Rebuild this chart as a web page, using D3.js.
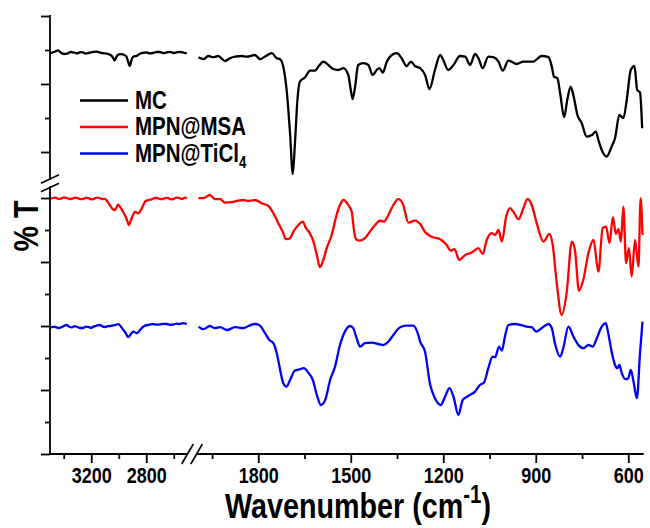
<!DOCTYPE html>
<html>
<head>
<meta charset="utf-8">
<script src="https://cdn.jsdelivr.net/npm/d3@7"></script>
<style>
  html, body { margin: 0; padding: 0; background: #fff; }
  svg { display: block; }
</style>
</head>
<body>
<svg id="chart" width="650" height="528"></svg>
<script>
// FTIR spectra, stacked with offsets: [wavenumber (cm-1), offset %T]
const seriesNames = ["MC", "MPN@MSA", "MPN@TiCl"];
const seriesSubscripts = ["", "", "4"];
const seriesColors = ["#000000", "#ff0000", "#0000ff"];

// MC, 3500-2500 cm-1
const mcHigh = [[3500,200.3],[3470,201.0],[3440,201.8],[3420,200.6],[3400,200.0],[3370,200.3],[3350,201.0],[3330,200.8],[3300,200.3],[3280,200.9],[3260,200.8],[3240,200.2],[3220,200.5],[3190,200.9],[3160,201.2],[3130,200.6],[3100,200.3],[3080,200.0],[3060,199.5],[3045,198.5],[3030,196.8],[3015,198.8],[3000,199.8],[2980,199.9],[2960,199.5],[2945,198.8],[2935,197.0],[2920,194.0],[2905,197.5],[2890,198.8],[2870,199.0],[2850,200.0],[2825,200.6],[2800,200.8],[2775,200.3],[2750,200.5],[2725,201.0],[2700,201.0],[2675,200.4],[2650,200.8],[2625,201.1],[2600,200.5],[2575,200.9],[2550,201.0],[2525,200.6],[2505,200.3]];
// MC, 2000-550 cm-1
const mcLow = [[1994,198.4],[1978,197.4],[1962,199.0],[1946,198.4],[1930,199.0],[1908,196.5],[1892,197.9],[1875,198.7],[1854,199.0],[1837,198.7],[1811,199.5],[1794,197.4],[1778,198.7],[1756,200.4],[1740,197.9],[1729,197.4],[1719,193.7],[1708,182.0],[1697,160.5],[1688,140.0],[1681,155.5],[1673,177.0],[1665,186.2],[1648,188.4],[1632,191.7],[1616,191.7],[1605,193.7],[1589,196.2],[1573,194.5],[1557,192.5],[1540,192.0],[1524,192.9],[1508,189.5],[1500,182.0],[1494,177.4],[1486,183.7],[1476,194.5],[1459,195.4],[1443,194.5],[1429,189.5],[1416,192.0],[1407,192.9],[1396,190.7],[1383,196.2],[1367,199.5],[1351,200.4],[1335,197.9],[1319,194.0],[1305,196.2],[1292,194.0],[1275,192.9],[1259,189.5],[1245,182.5],[1227,192.0],[1210,199.5],[1200,197.0],[1184,192.0],[1167,194.5],[1146,199.0],[1129,198.7],[1113,194.5],[1097,200.0],[1086,197.9],[1072,192.9],[1054,198.7],[1038,198.4],[1021,196.2],[1007,191.7],[989,196.7],[973,195.7],[962,195.0],[940,196.2],[908,196.2],[881,199.0],[859,198.4],[848,193.7],[841,188.7],[830,187.9],[821,180.4],[808,168.4],[798,177.0],[787,183.7],[776,177.9],[765,169.5],[751,165.4],[735,158.7],[718,159.5],[705,161.2],[697,157.0],[686,152.0],[670,148.7],[654,153.7],[643,157.9],[629,169.5],[616,167.9],[605,177.0],[592,192.0],[580,194.0],[571,182.0],[562,180.7],[555,162.9]];

// MPN@MSA
const msaHigh = [[3500,127.5],[3480,128.0],[3460,128.2],[3440,127.6],[3420,127.7],[3400,128.3],[3380,128.1],[3360,127.5],[3340,127.6],[3320,128.2],[3300,128.0],[3280,127.4],[3260,127.5],[3240,128.1],[3220,127.9],[3200,127.3],[3180,127.6],[3160,128.2],[3140,128.0],[3120,127.4],[3100,127.6],[3088,126.7],[3065,124.5],[3045,122.5],[3027,122.0],[3005,124.7],[2985,123.0],[2960,120.0],[2940,117.0],[2927,114.5],[2906,117.8],[2882,121.1],[2858,120.3],[2833,122.8],[2809,126.1],[2785,127.0],[2760,127.3],[2740,127.9],[2720,128.0],[2700,127.4],[2680,127.5],[2660,128.1],[2640,127.9],[2620,127.3],[2600,127.6],[2580,128.2],[2560,128.0],[2540,127.5],[2520,128.2],[2505,127.8]];
const msaLow = [[1994,127.9],[1978,127.9],[1957,129.5],[1940,127.4],[1924,127.5],[1908,125.7],[1886,125.9],[1865,126.7],[1849,127.0],[1832,126.5],[1811,127.0],[1789,125.4],[1767,124.0],[1751,120.4],[1735,115.4],[1721,111.2],[1710,107.4],[1697,107.9],[1686,111.2],[1670,114.5],[1656,116.2],[1645,112.9],[1634,110.7],[1621,106.2],[1610,99.5],[1600,93.4],[1589,97.0],[1578,102.9],[1562,109.5],[1546,119.5],[1535,124.5],[1524,127.0],[1508,124.5],[1497,121.2],[1489,111.2],[1483,107.4],[1470,106.7],[1454,107.9],[1438,111.2],[1421,114.5],[1405,116.7],[1392,116.2],[1378,119.5],[1362,124.5],[1346,127.4],[1331,125.0],[1313,115.7],[1292,116.7],[1275,115.0],[1259,111.0],[1240,108.7],[1210,107.4],[1189,104.5],[1176,101.7],[1164,102.4],[1148,97.0],[1129,99.5],[1108,100.7],[1086,102.9],[1072,100.0],[1059,107.0],[1043,110.4],[1032,109.5],[1021,112.0],[1010,106.2],[996,118.7],[983,122.9],[973,121.2],[956,117.4],[940,122.9],[927,127.5],[913,124.5],[897,115.4],[875,106.2],[856,110.0],[845,104.5],[832,85.4],[816,69.5],[800,80.4],[783,106.2],[773,102.0],[760,81.7],[746,87.0],[729,100.7],[713,107.0],[697,91.2],[683,112.9],[672,113.7],[661,105.4],[650,118.4],[640,110.0],[632,112.4],[624,106.2],[616,123.7],[607,95.4],[598,102.9],[589,88.7],[578,107.0],[567,93.7],[560,127.9],[554,109.5]];

// MPN@TiCl4
const tiHigh = [[3500,62.9],[3480,63.6],[3460,63.5],[3440,63.0],[3420,63.3],[3400,64.0],[3379,64.5],[3360,63.6],[3340,63.3],[3320,63.9],[3300,63.5],[3280,63.0],[3260,63.0],[3240,63.7],[3220,63.5],[3200,63.1],[3180,63.8],[3160,64.2],[3136,64.5],[3120,63.8],[3100,63.5],[3080,63.9],[3060,64.0],[3030,64.4],[3003,64.9],[2985,63.8],[2967,62.0],[2950,60.5],[2931,58.4],[2912,60.0],[2894,61.2],[2870,60.4],[2845,62.0],[2825,63.5],[2809,64.2],[2780,64.6],[2749,65.0],[2725,64.7],[2700,64.8],[2675,65.1],[2650,65.0],[2625,64.6],[2600,64.8],[2580,65.2],[2560,65.0],[2531,65.4],[2505,65.0]];
const tiLow = [[1994,63.7],[1978,62.4],[1957,64.0],[1940,62.9],[1924,63.4],[1902,62.0],[1875,63.4],[1849,62.9],[1832,64.0],[1811,65.0],[1797,64.5],[1778,60.4],[1764,57.0],[1751,55.4],[1740,50.4],[1729,42.0],[1719,35.4],[1708,33.7],[1697,37.0],[1681,41.7],[1665,42.4],[1652,42.9],[1638,40.7],[1623,37.0],[1610,29.5],[1597,24.5],[1583,27.0],[1567,37.0],[1551,43.7],[1535,54.5],[1519,61.2],[1502,64.0],[1492,62.9],[1481,57.9],[1470,53.7],[1454,55.4],[1432,55.7],[1411,55.0],[1394,54.5],[1378,56.2],[1362,59.5],[1340,63.4],[1319,64.2],[1297,64.2],[1281,59.5],[1275,56.2],[1259,51.0],[1243,35.0],[1227,27.9],[1208,24.5],[1194,28.7],[1180,32.9],[1167,28.7],[1151,19.5],[1137,27.0],[1119,29.0],[1097,31.2],[1081,34.5],[1068,35.7],[1054,42.9],[1040,48.7],[1032,48.4],[1019,53.7],[1010,51.7],[1000,58.7],[989,64.5],[967,65.0],[946,64.4],[929,63.7],[913,63.4],[899,61.2],[881,62.9],[859,65.0],[848,62.9],[838,55.4],[821,48.7],[811,52.9],[794,63.7],[778,58.7],[762,54.5],[746,52.9],[729,54.5],[715,53.7],[702,57.9],[686,63.7],[673,65.4],[665,60.4],[654,51.2],[643,44.5],[635,42.9],[629,44.5],[621,40.4],[610,37.4],[600,37.9],[592,42.0],[583,36.2],[572,27.9],[562,50.4],[554,66.2]];

// Axis ticks
const xHighMajor = [3200, 2800];
const xHighMinor = [3400, 3000, 2600];
const xLowMajor = [1800, 1500, 1200, 900, 600];
const xLowMinor = [1950, 1650, 1350, 1050, 750];
const yUpperMajor = [219, 185, 151];
const yUpperMinor = [202, 168];
const yLowerMajor = [128, 96, 64, 32, 0];
const yLowerMinor = [112, 80, 48, 16];
// broken-axis limits (data units)
const yUpperRange = [137.5, 219];
const yLowerRange = [0, 133.25];

const FONT = "'Liberation Sans', Arial, Helvetica, sans-serif";
const NARROW = "scale(0.82,1)";

const svg = d3.select("#chart");

const xHigh = d3.scaleLinear().domain([3500, 2500]).range([50, 187.5]);
const xLow = d3.scaleLinear().domain([2000, 550]).range([196.6, 643.7]);
const y = d3.scaleLinear().domain([0, 219]).range([454, 16]);

// ----- spectra -----
const plot = svg.append("g");
const segments = [
  [mcHigh, xHigh, 0], [mcLow, xLow, 0],
  [msaHigh, xHigh, 1], [msaLow, xLow, 1],
  [tiHigh, xHigh, 2], [tiLow, xLow, 2]
];
segments.forEach(([data, xs, i]) => {
  const line = d3.line()
    .x(d => xs(d[0]))
    .y(d => y(d[1]))
    .curve(d3.curveMonotoneX);
  plot.append("path")
    .datum(data)
    .attr("fill", "none")
    .attr("stroke", seriesColors[i])
    .attr("stroke-width", 2.3)
    .attr("stroke-linejoin", "round")
    .attr("d", line);
});

// ----- axes -----
const axisStroke = 1.8;
const x0 = xHigh(3500);
const yBase = y(0);

function styleAxis(g) {
  g.selectAll(".domain").remove();
  g.selectAll("line").attr("stroke", "#000").attr("stroke-width", axisStroke);
}

function drawXAxis(scale, majors, minors) {
  const gMaj = svg.append("g").attr("transform", `translate(0,${yBase})`)
    .call(d3.axisBottom(scale).tickValues(majors).tickSize(9).tickSizeOuter(0).tickFormat(d3.format("d")));
  const gMin = svg.append("g").attr("transform", `translate(0,${yBase})`)
    .call(d3.axisBottom(scale).tickValues(minors).tickSize(5).tickSizeOuter(0).tickFormat(""));
  styleAxis(gMaj); styleAxis(gMin);
  gMaj.selectAll("text")
    .attr("fill", "#000")
    .attr("font-family", FONT)
    .attr("font-weight", "bold")
    .attr("font-size", 22)
    .attr("y", 13)
    .attr("dy", "0.71em")
    .attr("transform", NARROW);
  // axis line for this segment
  svg.append("line")
    .attr("x1", scale.range()[0]).attr("x2", scale.range()[1])
    .attr("y1", yBase).attr("y2", yBase)
    .attr("stroke", "#000").attr("stroke-width", axisStroke);
}
drawXAxis(xHigh, xHighMajor, xHighMinor);
drawXAxis(xLow, xLowMajor, xLowMinor);

function drawYTicks(values, size) {
  const g = svg.append("g").attr("transform", `translate(${x0},0)`)
    .call(d3.axisLeft(y).tickValues(values).tickSize(size).tickSizeOuter(0).tickFormat(""));
  styleAxis(g);
}
drawYTicks(yUpperMajor, 9);
drawYTicks(yUpperMinor, 5);
drawYTicks(yLowerMajor, 9);
drawYTicks(yLowerMinor, 5);

[yUpperRange, yLowerRange].forEach(r => {
  svg.append("line")
    .attr("x1", x0).attr("x2", x0)
    .attr("y1", y(r[0])).attr("y2", y(r[1]))
    .attr("stroke", "#000").attr("stroke-width", axisStroke)
    .attr("stroke-linecap", "square");
});

// break marks
const breakStroke = 1.6;
[yUpperRange[0], yLowerRange[1]].forEach(v => {
  const yb = y(v);
  svg.append("line")
    .attr("x1", x0 - 9).attr("y1", yb + 4.2)
    .attr("x2", x0 + 9).attr("y2", yb - 4.2)
    .attr("stroke", "#000").attr("stroke-width", breakStroke);
});
[xHigh(2500), xLow(2000)].forEach(xb => {
  svg.append("line")
    .attr("x1", xb - 5.8).attr("y1", yBase + 10)
    .attr("x2", xb + 5.8).attr("y2", yBase - 10)
    .attr("stroke", "#000").attr("stroke-width", breakStroke);
});

// ----- axis titles -----
svg.append("text")
  .attr("transform", `translate(38,226) rotate(-90) ${NARROW}`)
  .attr("text-anchor", "middle")
  .attr("font-family", FONT)
  .attr("font-weight", "bold")
  .attr("font-size", 35)
  .attr("fill", "#000")
  .text("% T");

const xTitle = svg.append("text")
  .attr("transform", `translate(358,518) ${NARROW}`)
  .attr("text-anchor", "middle")
  .attr("font-family", FONT)
  .attr("font-weight", "bold")
  .attr("font-size", 35)
  .attr("fill", "#000");
xTitle.append("tspan").text("Wavenumber (cm");
xTitle.append("tspan").attr("font-size", 25).attr("dy", -15).text("-1");
xTitle.append("tspan").attr("dy", 15).text(")");

// ----- legend -----
const legendY = [100.5, 127, 153.5];
seriesNames.forEach((name, i) => {
  svg.append("line")
    .attr("x1", 80).attr("x2", 128)
    .attr("y1", legendY[i]).attr("y2", legendY[i])
    .attr("stroke", seriesColors[i]).attr("stroke-width", 2.3);
  const t = svg.append("text")
    .attr("transform", `translate(135,${legendY[i] + 8}) ${NARROW}`)
    .attr("font-family", FONT)
    .attr("font-weight", "bold")
    .attr("font-size", 25)
    .attr("fill", "#000");
  t.append("tspan").text(name);
  if (seriesSubscripts[i]) {
    t.append("tspan").attr("font-size", 16).attr("dy", 6).text(seriesSubscripts[i]);
  }
});
</script>
</body>
</html>
